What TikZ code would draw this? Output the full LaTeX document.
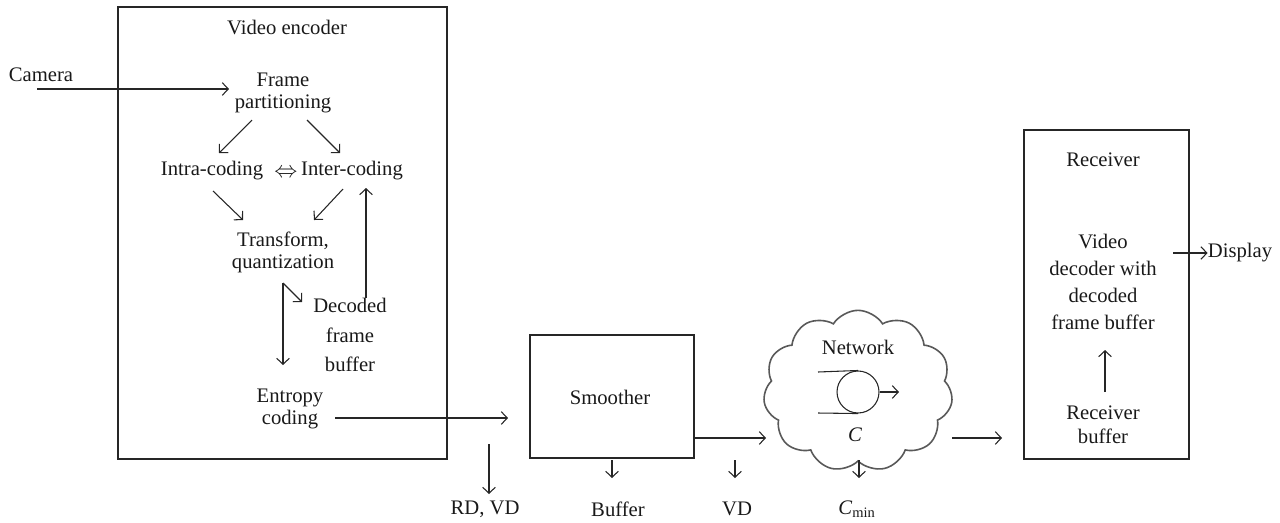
\documentclass[tikz,border=0pt]{standalone}
\usepackage{fontspec}
\setmainfont{Liberation Serif}
\usetikzlibrary{arrows.meta,fit,shapes.symbols}
\begin{document}
\begin{tikzpicture}[x=0.75pt,y=-0.75pt,
  ln/.style={line width=0.8pt,draw=black!85},
  arr/.style={ln,-{Straight Barb[length=4.5pt,width=9.5pt,line width=0.8pt]}},
  lbl/.style={font=\fontsize{15.5}{16.5}\selectfont,align=center,inner sep=0pt,text=black!90},
  frame/.style={ln,line width=1pt,inner sep=0pt},
]
\useasboundingbox (0,0) rectangle (1280,522);

% ---------- boxes ----------
\node[frame,fit={(118,7)(447,459)}] (enc) {};
\node[frame,fit={(530,335)(694,458)}] (smooth) {};
\node[frame,fit={(1024,130)(1189,459)}] (recv) {};
\node[cloud,cloud puffs=11,cloud puff arc=115,aspect=1.2,
      draw=black!65,line width=1.2pt,
      minimum width=142pt,minimum height=121pt,inner sep=0pt] (cloud) at (858,391) {};

% ---------- encoder texts ----------
\node[lbl] (encT) at (287,27) {Video encoder};
\node[lbl] (camera) at (41,75) {Camera};
\node[lbl] (part) at (283,93) {Frame\\partitioning};
\node[lbl] (intra) at (212,171) {Intra-coding};
\node[lbl,font=\fontsize{18}{18}\selectfont] (both) at (286,173) {$\Leftrightarrow$};
\node[lbl] (inter) at (352,171) {Inter-coding};
\node[lbl] (trans) at (283,252) {Transform,\\quantization};
\node[lbl,font=\fontsize{15.5}{22}\selectfont] (dec) at (350,335) {Decoded\\frame\\buffer};
\node[lbl] (ent) at (290,409) {Entropy\\coding};

% ---------- bottom labels ----------
\node[lbl] (rdvd) at (485,509) {RD, VD};
\node[lbl] (smT) at (610,397) {Smoother};
\node[lbl] (buf) at (618,509) {Buffer};
\node[lbl] (vd) at (737,509) {VD};
\node[lbl] (cmin) at (857,509) {\textit{C}\textsubscript{min}};

% ---------- network ----------
\node[lbl] (net) at (858,347) {Network};
\node[ln,circle,minimum size=31.5pt,inner sep=0pt] (srv) at (858,392) {};
\node[lbl] (cap) at (855,435) {\textit{C}};

% ---------- receiver ----------
\node[lbl] (recT) at (1103,160) {Receiver};
\node[lbl,font=\fontsize{15.5}{20.3}\selectfont] (vdec) at (1103,282) {Video\\decoder with\\decoded\\frame buffer};
\node[lbl,font=\fontsize{15.5}{18}\selectfont] (rbuf) at (1103,425) {Receiver\\buffer};
\node[lbl] (disp) at (1240,253) {Display};

% ---------- connector end points ----------
\coordinate (camS) at (37,89);    \coordinate (camE) at (229,89);
\coordinate (p1) at (252,120);    \coordinate (p2) at (219,153);
\coordinate (p3) at (307,120);    \coordinate (p4) at (340,153);
\coordinate (p5) at (213,191);    \coordinate (p6) at (243,220);
\coordinate (p7) at (343,189);    \coordinate (p8) at (314,220);
\coordinate (fbS) at (366,298);   \coordinate (fbE) at (366,188);
\coordinate (q0) at (283,283);    \coordinate (q1) at (283,365);
\coordinate (q2) at (302,302);
\coordinate (eS) at (335,418);    \coordinate (eE) at (508,418);
\coordinate (r1) at (489,444);    \coordinate (r2) at (489,494);
\coordinate (sE) at (766,438);
\coordinate (b1) at (612,460);    \coordinate (b2) at (612,478);
\coordinate (v1) at (735,460);    \coordinate (v2) at (735,478);
\coordinate (c1) at (859,460);    \coordinate (c2) at (859,478);
\coordinate (qa) at (818,372);    \coordinate (qb) at (818,413);
\coordinate (qo) at (899,392);
\coordinate (nS) at (952,438);    \coordinate (nE) at (1002,438);
\coordinate (u1) at (1105,392);   \coordinate (u2) at (1105,350);
\coordinate (dS) at (1173,253);

% ---------- connectors ----------
\draw[arr] (camS) -- (camE);
\draw[arr] (p1) -- (p2);
\draw[arr] (p3) -- (p4);
\draw[arr] (p5) -- (p6);
\draw[arr] (p7) -- (p8);
\draw[arr] (fbS) -- (fbE);
\draw[arr] (q0) -- (q1);
\draw[arr] (q0) -- (q2);
\draw[arr] (eS) -- (eE);
\draw[arr] (r1) -- (r2);
\draw[arr] (smooth.east |- sE) -- (sE);
\draw[arr] (b1) -- (b2);
\draw[arr] (v1) -- (v2);
\draw[arr] (c1) -- (c2);
\draw[ln] (qa) -- (srv.north);
\draw[ln] (qb) -- (srv.south);
\draw[arr] (srv.east) -- (qo);
\draw[arr] (nS) -- (nE);
\draw[arr] (u1) -- (u2);
\draw[arr] (dS) -- (disp.west);
\end{tikzpicture}
\end{document}
